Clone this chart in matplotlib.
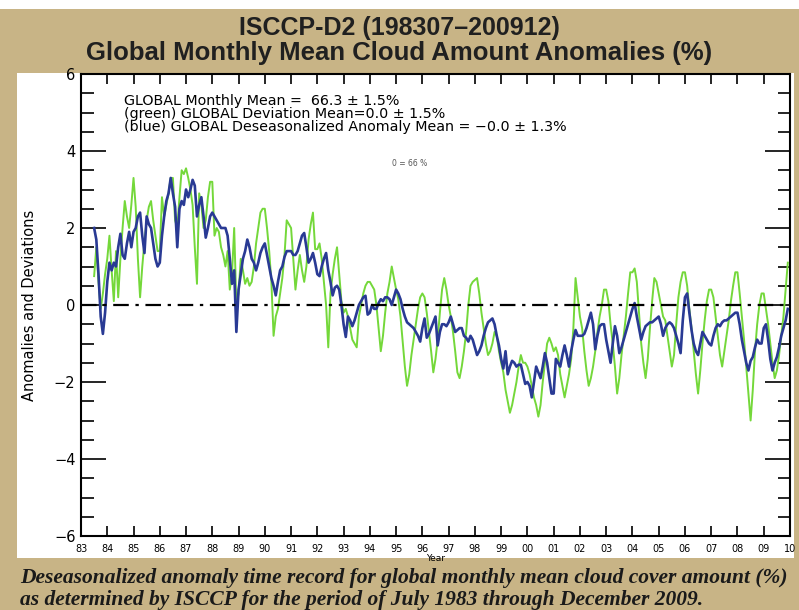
import numpy as np
import matplotlib
matplotlib.use("Agg")
import matplotlib.pyplot as plt
from matplotlib.patches import Rectangle
from matplotlib.ticker import MultipleLocator

# monthly values, July 1983 .. December 2009
start_year, start_month = 1983, 7

# blue: deseasonalized anomaly (%)
deseasonalized = [
    2.0, 1.7, 0.8, -0.3, -0.75, -0.2,                                   # 1983 Jul-Dec
    0.6, 1.1, 0.9, 1.1, 1.0, 1.5, 1.85, 1.3, 1.2, 1.6, 1.9, 1.5,          # 1984
    1.9, 2.0, 2.3, 2.4, 1.8, 1.35, 2.3, 2.1, 2.0, 1.6, 1.2, 1.0,          # 1985
    1.1, 1.8, 2.3, 2.7, 2.9, 3.3, 2.9, 2.55, 1.5, 2.5, 2.7, 2.6,          # 1986
    3.0, 2.8, 3.0, 3.25, 3.1, 2.3, 2.6, 2.8, 2.3, 1.75, 2.0, 2.3,         # 1987
    2.4, 2.3, 2.2, 2.1, 2.0, 2.0, 2.0, 1.8, 1.2, 0.55, 0.9, -0.7,         # 1988
    0.4, 0.8, 1.2, 1.4, 1.7, 1.5, 1.2, 1.1, 0.9, 1.1, 1.35, 1.5,          # 1989
    1.6, 1.3, 1.0, 0.7, 0.5, 0.25, 0.6, 0.9, 1.0, 1.25, 1.4, 1.4,         # 1990
    1.4, 1.3, 1.3, 1.4, 1.6, 1.8, 1.87, 1.5, 1.1, 1.2, 1.35, 1.1,         # 1991
    0.8, 0.75, 1.0, 1.2, 1.35, 0.9, 0.6, 0.25, 0.45, 0.5, 0.4, 0.0,       # 1992
    -0.5, -0.83, -0.3, -0.4, -0.55, -0.4, -0.2, 0.0, 0.1, 0.2, 0.24, -0.25,  # 1993
    -0.2, 0.0, -0.1, -0.1, 0.05, 0.15, 0.1, 0.2, 0.2, 0.15, 0.0, 0.2,     # 1994
    0.4, 0.3, 0.15, -0.1, -0.3, -0.45, -0.5, -0.55, -0.6, -0.7, -0.8, -0.95,  # 1995
    -0.6, -0.35, -0.85, -0.75, -0.6, -0.45, -0.3, -1.05, -0.7, -0.5, -0.5, -0.55,  # 1996
    -0.45, -0.3, -0.5, -0.7, -0.65, -0.6, -0.6, -0.8, -0.85, -0.95, -0.8, -0.9,  # 1997
    -1.1, -1.3, -1.2, -1.05, -0.8, -0.6, -0.45, -0.4, -0.35, -0.5, -0.8, -1.05,  # 1998
    -1.4, -1.65, -1.2, -1.8, -1.6, -1.45, -1.5, -1.6, -1.55, -1.55, -1.8, -2.05,  # 1999
    -2.0, -2.1, -2.4, -2.0, -1.6, -1.75, -1.9, -1.6, -1.25, -1.5, -1.9, -2.3,  # 2000
    -2.3, -1.4, -1.5, -1.6, -1.3, -1.05, -1.3, -1.6, -1.2, -0.9, -0.65, -0.8,  # 2001
    -0.8, -0.8, -0.75, -0.6, -0.4, -0.2, -0.5, -1.15, -0.8, -0.55, -0.5, -0.5,  # 2002
    -0.9, -1.2, -1.5, -1.0, -0.55, -0.8, -1.25, -1.1, -0.9, -0.7, -0.5, -0.3,  # 2003
    -0.1, 0.05, -0.3, -0.6, -0.9, -0.7, -0.55, -0.5, -0.45, -0.45, -0.4, -0.35,  # 2004
    -0.3, -0.5, -0.8, -0.6, -0.5, -0.45, -0.5, -0.6, -0.8, -1.0, -1.25, -0.4,  # 2005
    0.2, 0.3, -0.2, -0.65, -1.0, -1.2, -1.3, -1.0, -0.7, -0.8, -0.9, -1.0,  # 2006
    -1.05, -0.8, -0.6, -0.5, -0.55, -0.45, -0.4, -0.4, -0.35, -0.3, -0.25, -0.2,  # 2007
    -0.2, -0.5, -0.9, -1.2, -1.5, -1.7, -1.45, -1.35, -1.1, -0.9, -1.0, -1.0,  # 2008
    -0.6, -0.5, -0.9, -1.4, -1.7, -1.5, -1.35, -1.1, -0.8, -0.6, -0.4, -0.1,  # 2009
]

# green: deviation from the record mean (%)
deviation = [
    0.75, 1.5, 0.6, -0.1, 0.3, 0.8,                                     # 1983 Jul-Dec
    1.2, 1.8, 0.9, 0.1, 1.4, 0.2, 1.2, 2.0, 2.7, 2.3, 2.0, 2.6,           # 1984
    3.3, 2.55, 1.2, 0.2, 1.0, 1.65, 2.2, 2.55, 2.7, 2.2, 1.8, 1.4,        # 1985
    1.4, 2.8, 2.3, 2.6, 2.9, 3.3, 3.3, 2.2, 2.0, 2.8, 3.5, 3.4,           # 1986
    3.55, 3.3, 3.0, 2.6, 1.5, 0.55, 2.9, 2.6, 2.0, 2.2, 2.8, 3.2,         # 1987
    3.2, 1.8, 2.0, 1.9, 1.5, 1.3, 1.0, 1.4, 0.4, 0.8, 2.0, 0.0,           # 1988
    0.3, 1.2, 0.9, 0.55, 0.7, 0.5, 0.6, 1.0, 1.6, 2.0, 2.4, 2.5,          # 1989
    2.5, 2.0, 1.4, 0.6, -0.8, -0.3, -0.1, 0.3, 0.7, 1.3, 2.2, 2.1,        # 1990
    2.0, 1.2, 0.4, 0.9, 1.3, 0.9, 0.6, 1.0, 1.7, 2.1, 2.4, 1.45,          # 1991
    1.45, 1.6, 1.2, 0.6, 0.0, -1.1, 0.3, 0.8, 1.2, 1.5, 0.8, 0.1,         # 1992
    -0.2, -0.1, -0.3, -0.6, -0.9, -1.0, -1.1, -0.3, 0.0, 0.3, 0.5, 0.6,   # 1993
    0.6, 0.5, 0.4, 0.0, -0.6, -1.2, -0.8, -0.2, 0.3, 0.6, 1.0, 0.7,       # 1994
    0.4, 0.15, -0.3, -0.95, -1.6, -2.1, -1.8, -1.3, -0.9, -0.5, -0.1, 0.2,  # 1995
    0.3, 0.2, -0.2, -0.7, -1.2, -1.75, -1.4, -0.9, -0.2, 0.4, 0.7, 0.4,   # 1996
    0.0, -0.3, -0.7, -1.2, -1.75, -1.9, -1.6, -1.2, -0.7, 0.0, 0.5, 0.6,  # 1997
    0.65, 0.7, 0.3, -0.2, -0.6, -1.0, -1.3, -1.2, -1.0, -0.7, -0.8, -1.2,  # 1998
    -1.5, -1.75, -2.2, -2.5, -2.8, -2.6, -2.3, -2.0, -1.6, -1.3, -1.5, -1.5,  # 1999
    -1.6, -1.8, -2.1, -2.4, -2.6, -2.9, -2.6, -2.0, -1.5, -1.0, -0.85, -1.0,  # 2000
    -1.2, -1.1, -1.3, -1.8, -2.1, -2.4, -2.1, -1.8, -1.4, -0.6, 0.7, 0.2,  # 2001
    -0.3, -0.6, -1.2, -1.7, -2.1, -1.9, -1.6, -1.2, -0.7, -0.3, 0.0, 0.4,  # 2002
    0.4, 0.1, -0.5, -1.0, -1.6, -2.3, -1.9, -1.3, -0.8, -0.3, 0.3, 0.85,  # 2003
    0.85, 0.95, 0.6, -0.2, -1.0, -1.5, -1.9, -1.4, -0.6, 0.1, 0.7, 0.6,   # 2004
    0.3, 0.0, -0.3, -0.4, -0.8, -1.2, -1.6, -1.3, -0.5, 0.2, 0.6, 0.85,   # 2005
    0.85, 0.5, -0.1, -0.6, -1.2, -1.8, -2.3, -1.7, -1.0, -0.4, 0.1, 0.4,  # 2006
    0.4, 0.2, -0.3, -0.8, -1.3, -1.6, -1.2, -0.8, -0.4, 0.1, 0.5, 0.85,   # 2007
    0.85, 0.3, -0.3, -0.9, -1.6, -2.3, -3.0, -2.2, -1.2, -0.5, 0.0, 0.3,  # 2008
    0.3, -0.1, -0.5, -1.0, -1.5, -1.9, -1.7, -1.3, -0.8, -0.3, 0.4, 1.1,  # 2009
]

year_ticks = list(range(1983, 2011))
year_labels = [f"{y % 100:02d}" for y in year_ticks]

legend_lines = [
    "GLOBAL Monthly Mean =  66.3 \u00b1 1.5%",
    "(green) GLOBAL Deviation Mean=0.0 \u00b1 1.5%",
    "(blue) GLOBAL Deseasonalized Anomaly Mean = \u22120.0 \u00b1 1.3%",
]

tan = "#c8b486"
W, H = 799, 610

# decimal year for each month
n = len(deseasonalized)
t = np.array([start_year + (start_month - 1 + i) / 12.0 for i in range(n)])

fig = plt.figure(figsize=(W / 100, H / 100), dpi=100, facecolor=tan)
# white panel behind the plot, white strip at the very top
fig.patches.append(Rectangle((17 / W, 1 - 558 / H), (794 - 17) / W, (558 - 73) / H,
                             transform=fig.transFigure, facecolor="white",
                             edgecolor="none", zorder=-10))
fig.patches.append(Rectangle((0, 1 - 9 / H), 1, 9 / H, transform=fig.transFigure,
                             facecolor="white", edgecolor="none", zorder=-10))

ax = fig.add_axes([81 / W, 1 - 536 / H, (790 - 81) / W, (536 - 74) / H])
ax.set_zorder(5)
ax.set_facecolor("white")

ax.plot(t, deviation, color="#74d83a", lw=1.4, zorder=2)
ax.plot(t, deseasonalized, color="#293a94", lw=1.9, zorder=3)
ax.axhline(0, color="black", lw=1.6, ls=(0, (7, 3, 1.5, 3)), zorder=4)

ax.set_xlim(1983, 2010)
ax.set_ylim(-6, 6)
ax.set_xticks(year_ticks)
ax.set_xticklabels(year_labels, fontsize=7)
ax.set_yticks([-6, -4, -2, 0, 2, 4, 6])
ax.set_yticklabels(["\u22126", "\u22124", "\u22122", "0", "2", "4", "6"], fontsize=10.5)
ax.yaxis.set_minor_locator(MultipleLocator(0.5))
ax.tick_params(axis="x", direction="in", length=7, width=1.2, top=True, pad=6)
ax.tick_params(axis="y", which="major", direction="in", length=18, width=1.2, right=True, pad=4)
ax.tick_params(axis="y", which="minor", direction="in", length=9, width=1.2, right=True)
for s in ax.spines.values():
    s.set_linewidth(1.5)

ax.set_xlabel("Year", fontsize=6.5, labelpad=0)
ax.set_ylabel("Anomalies and Deviations", fontsize=10.5)
ax.yaxis.set_label_coords(-0.062, 0.5)

for i, line in enumerate(legend_lines):
    ax.text(0.061, (536 - 101 - 13 * i) / 462, line, transform=ax.transAxes,
            fontsize=10.3, va="center", ha="left")
ax.text(0.464, 0.807, "0 = 66 %", transform=ax.transAxes, fontsize=5.5,
        color="#555555", ha="center", va="center")

fig.text(0.5, 1 - 28 / H, "ISCCP-D2 (198307\u2013200912)", ha="center", va="center",
         fontsize=18, fontweight="bold", family="Liberation Sans", color="#202020")
fig.text(0.5, 1 - 53 / H, "Global Monthly Mean Cloud Amount Anomalies (%)", ha="center",
         va="center", fontsize=18.5, fontweight="bold", family="Liberation Sans",
         color="#202020")

fig.text(20 / W, 1 - 578 / H,
         "Deseasonalized anomaly time record for global monthly mean cloud cover amount (%)",
         ha="left", va="center", fontsize=15.5, fontweight="bold", style="italic",
         family="Liberation Serif", color="#1a1a1a")
fig.text(20 / W, 1 - 600 / H,
         "as determined by ISCCP for the period of July 1983 through December 2009.",
         ha="left", va="center", fontsize=15.5, fontweight="bold", style="italic",
         family="Liberation Serif", color="#1a1a1a")

fig.savefig("out.png", dpi=100, facecolor=tan)
